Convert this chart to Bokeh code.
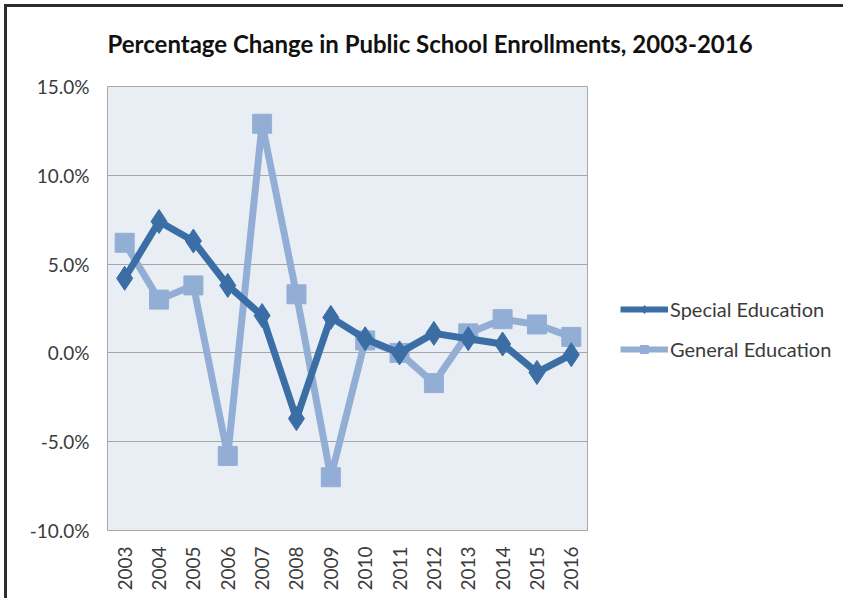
import math
from bokeh.plotting import figure
from bokeh.layouts import row, column
from bokeh.models import Legend, LegendItem, FixedTicker, ColumnDataSource
from bokeh.embed import file_html
from bokeh.resources import INLINE

years = ["2003", "2004", "2005", "2006", "2007", "2008", "2009", "2010",
         "2011", "2012", "2013", "2014", "2015", "2016"]
special_ed = [4.2, 7.4, 6.3, 3.8, 2.1, -3.7, 2.0, 0.8, 0.0, 1.1, 0.8, 0.5, -1.1, -0.1]
general_ed = [6.2, 3.0, 3.8, -5.8, 12.9, 3.3, -7.0, 0.7, 0.0, -1.7, 1.1, 1.9, 1.6, 0.9]
y_ticks = [-10, -5, 0, 5, 10, 15]
tick_labels = {t: f"{t:.1f}%" for t in y_ticks}
series_names = ["Special Education", "General Education"]

title_text = "Percentage Change in Public School Enrollments, 2003-2016"
FONT = "Lato"
SPECIAL_COLOR = "#3A6EA5"
GENERAL_COLOR = "#93AED5"
TEXT_COLOR = "#3b3b3b"

# ---- title strip ----
tf = figure(width=836, height=67, output_backend="svg", toolbar_location=None,
            x_axis_location=None, y_axis_location=None,
            min_border_left=100, min_border_right=255,
            min_border_top=51, min_border_bottom=0)
tf.outline_line_color = None
tf.grid.grid_line_color = None
tf.background_fill_color = "white"
tf.border_fill_color = "white"
tf.title.text = title_text
tf.title.text_font = FONT
tf.title.text_font_size = "24px"
tf.title.text_font_style = "bold"
tf.title.text_color = "#111111"
tf.title.align = "left"
tf.title.offset = 0
tf.title.standoff = 2

# ---- main chart ----
p = figure(width=581, height=524, x_range=years, y_range=(-10, 15),
           output_backend="svg", toolbar_location=None,
           min_border_left=100, min_border_right=0,
           min_border_top=12, min_border_bottom=68)

p.background_fill_color = "#E9EDF4"
p.border_fill_color = "white"
p.outline_line_color = "#A9A9A9"
p.outline_line_width = 1

p.xgrid.grid_line_color = None
p.ygrid.grid_line_color = "#A6A6A6"
p.ygrid.grid_line_width = 1
p.yaxis.ticker = FixedTicker(ticks=y_ticks)
p.yaxis.major_label_overrides = tick_labels

for ax in (p.xaxis, p.yaxis):
    ax.axis_line_color = "#A9A9A9"
    ax.major_tick_line_color = None
    ax.minor_tick_line_color = None
    ax.major_label_text_font = FONT
    ax.major_label_text_font_size = "19px"
    ax.major_label_text_color = TEXT_COLOR
p.yaxis.major_label_standoff = 12
p.xaxis.major_label_standoff = 10
p.xaxis.major_label_orientation = math.pi / 2

src = ColumnDataSource(dict(year=years, special=special_ed, general=general_ed))

p.line("year", "general", source=src, line_color=GENERAL_COLOR, line_width=7)
p.scatter("year", "general", source=src, marker="square", size=19,
          fill_color=GENERAL_COLOR, line_color=GENERAL_COLOR)
p.line("year", "special", source=src, line_color=SPECIAL_COLOR, line_width=7)
p.scatter("year", "special", source=src, marker="diamond", size=24,
          fill_color=SPECIAL_COLOR, line_color=SPECIAL_COLOR)

# ---- legend in a companion figure to the right ----
lf = figure(width=255, height=524, x_range=years, y_range=(-10, 15),
            output_backend="svg", toolbar_location=None,
            x_axis_location=None, y_axis_location=None,
            min_border_left=0, min_border_right=0,
            min_border_top=12, min_border_bottom=68)
lf.outline_line_color = None
lf.grid.grid_line_color = None
lf.background_fill_color = "white"
lf.border_fill_color = "white"

sl = lf.line("year", "special", source=src, line_color=SPECIAL_COLOR, line_width=6, visible=False)
ss = lf.scatter("year", "special", source=src, marker="diamond", size=12,
                fill_color=SPECIAL_COLOR, line_color=SPECIAL_COLOR, visible=False)
gl = lf.line("year", "general", source=src, line_color=GENERAL_COLOR, line_width=6, visible=False)
gs = lf.scatter("year", "general", source=src, marker="square", size=10,
                fill_color=GENERAL_COLOR, line_color=GENERAL_COLOR, visible=False)

legend = Legend(items=[LegendItem(label=series_names[0], renderers=[sl, ss]),
                       LegendItem(label=series_names[1], renderers=[gl, gs])],
                location=(32, 169))
legend.background_fill_alpha = 0
legend.border_line_color = None
legend.inactive_fill_alpha = 0
legend.padding = 0
legend.margin = 0
legend.spacing = 16
legend.glyph_width = 48
legend.glyph_height = 20
legend.label_standoff = 2
legend.label_text_font = FONT
legend.label_text_font_size = "20px"
legend.label_text_color = TEXT_COLOR
lf.add_layout(legend, "center")

layout = column(tf, row(p, lf, spacing=0), spacing=0)
layout.styles = {"margin-left": "4px", "margin-top": "4px",
                 "border-left": "3px solid #2d2d2d", "border-top": "3px solid #2d2d2d"}
open("out.html", "w").write(file_html(layout, INLINE))
